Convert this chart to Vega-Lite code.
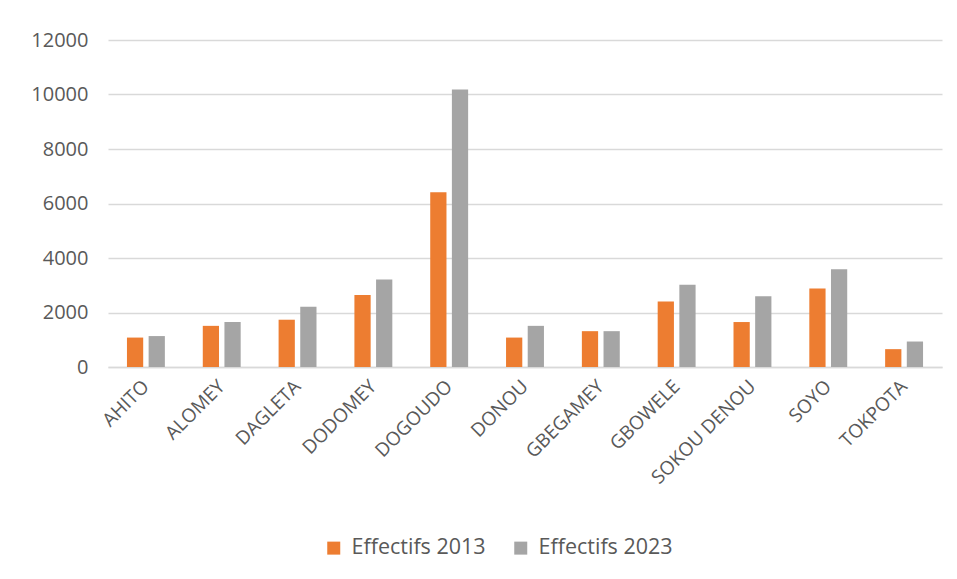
{
  "$schema": "https://vega.github.io/schema/vega-lite/v6.json",
  "autosize": {"type": "none"},
  "padding": {"left": 108, "top": 40, "right": 15, "bottom": 212},
  "width": 834,
  "height": 327,
  "background": "white",
  "data": {"values": [
    {"site": "AHITO", "serie": "Effectifs 2013", "v": 1080},
    {"site": "AHITO", "serie": "Effectifs 2023", "v": 1135},
    {"site": "ALOMEY", "serie": "Effectifs 2013", "v": 1510},
    {"site": "ALOMEY", "serie": "Effectifs 2023", "v": 1650},
    {"site": "DAGLETA", "serie": "Effectifs 2013", "v": 1735},
    {"site": "DAGLETA", "serie": "Effectifs 2023", "v": 2215},
    {"site": "DODOMEY", "serie": "Effectifs 2013", "v": 2645},
    {"site": "DODOMEY", "serie": "Effectifs 2023", "v": 3210},
    {"site": "DOGOUDO", "serie": "Effectifs 2013", "v": 6410},
    {"site": "DOGOUDO", "serie": "Effectifs 2023", "v": 10180},
    {"site": "DONOU", "serie": "Effectifs 2013", "v": 1080},
    {"site": "DONOU", "serie": "Effectifs 2023", "v": 1510},
    {"site": "GBEGAMEY", "serie": "Effectifs 2013", "v": 1315},
    {"site": "GBEGAMEY", "serie": "Effectifs 2023", "v": 1315},
    {"site": "GBOWELE", "serie": "Effectifs 2013", "v": 2400},
    {"site": "GBOWELE", "serie": "Effectifs 2023", "v": 3015},
    {"site": "SOKOU DENOU", "serie": "Effectifs 2013", "v": 1650},
    {"site": "SOKOU DENOU", "serie": "Effectifs 2023", "v": 2595},
    {"site": "SOYO", "serie": "Effectifs 2013", "v": 2880},
    {"site": "SOYO", "serie": "Effectifs 2023", "v": 3590},
    {"site": "TOKPOTA", "serie": "Effectifs 2013", "v": 655},
    {"site": "TOKPOTA", "serie": "Effectifs 2023", "v": 935}
  ]},
  "mark": {"type": "bar"},
  "encoding": {
    "x": {
      "field": "site", "type": "nominal", "sort": null,
      "scale": {"paddingInner": 0.5, "paddingOuter": 0.25},
      "axis": {"title": null, "labelAngle": -45, "labelAlign": "right", "labelBaseline": "middle",
               "labelFont": "Open Sans", "labelFontSize": 19, "labelColor": "#595959",
               "ticks": false, "domainColor": "#d9d9d9", "domainWidth": 1.5, "labelPadding": 16}
    },
    "xOffset": {"field": "serie", "type": "nominal", "scale": {"paddingInner": 0.25}},
    "y": {
      "field": "v", "type": "quantitative",
      "scale": {"domain": [0, 12000]},
      "axis": {"title": null, "values": [0, 2000, 4000, 6000, 8000, 10000, 12000], "format": "d",
               "labelFont": "Open Sans", "labelFontSize": 20, "labelColor": "#595959", "labelPadding": 20,
               "ticks": false, "domain": false, "gridColor": "#d9d9d9", "gridWidth": 1.5}
    },
    "color": {
      "field": "serie", "type": "nominal",
      "scale": {"range": ["#ED7D31", "#A5A5A5"]},
      "legend": {"title": null, "orient": "none", "legendX": 215, "legendY": 497, "direction": "horizontal",
                 "symbolType": "square", "symbolSize": 169, "labelFont": "Open Sans", "labelFontSize": 21.5,
                 "labelColor": "#595959", "columnPadding": 24, "labelOffset": 7, "symbolStrokeWidth": 0}
    }
  },
  "config": {"view": {"stroke": null}}
}
